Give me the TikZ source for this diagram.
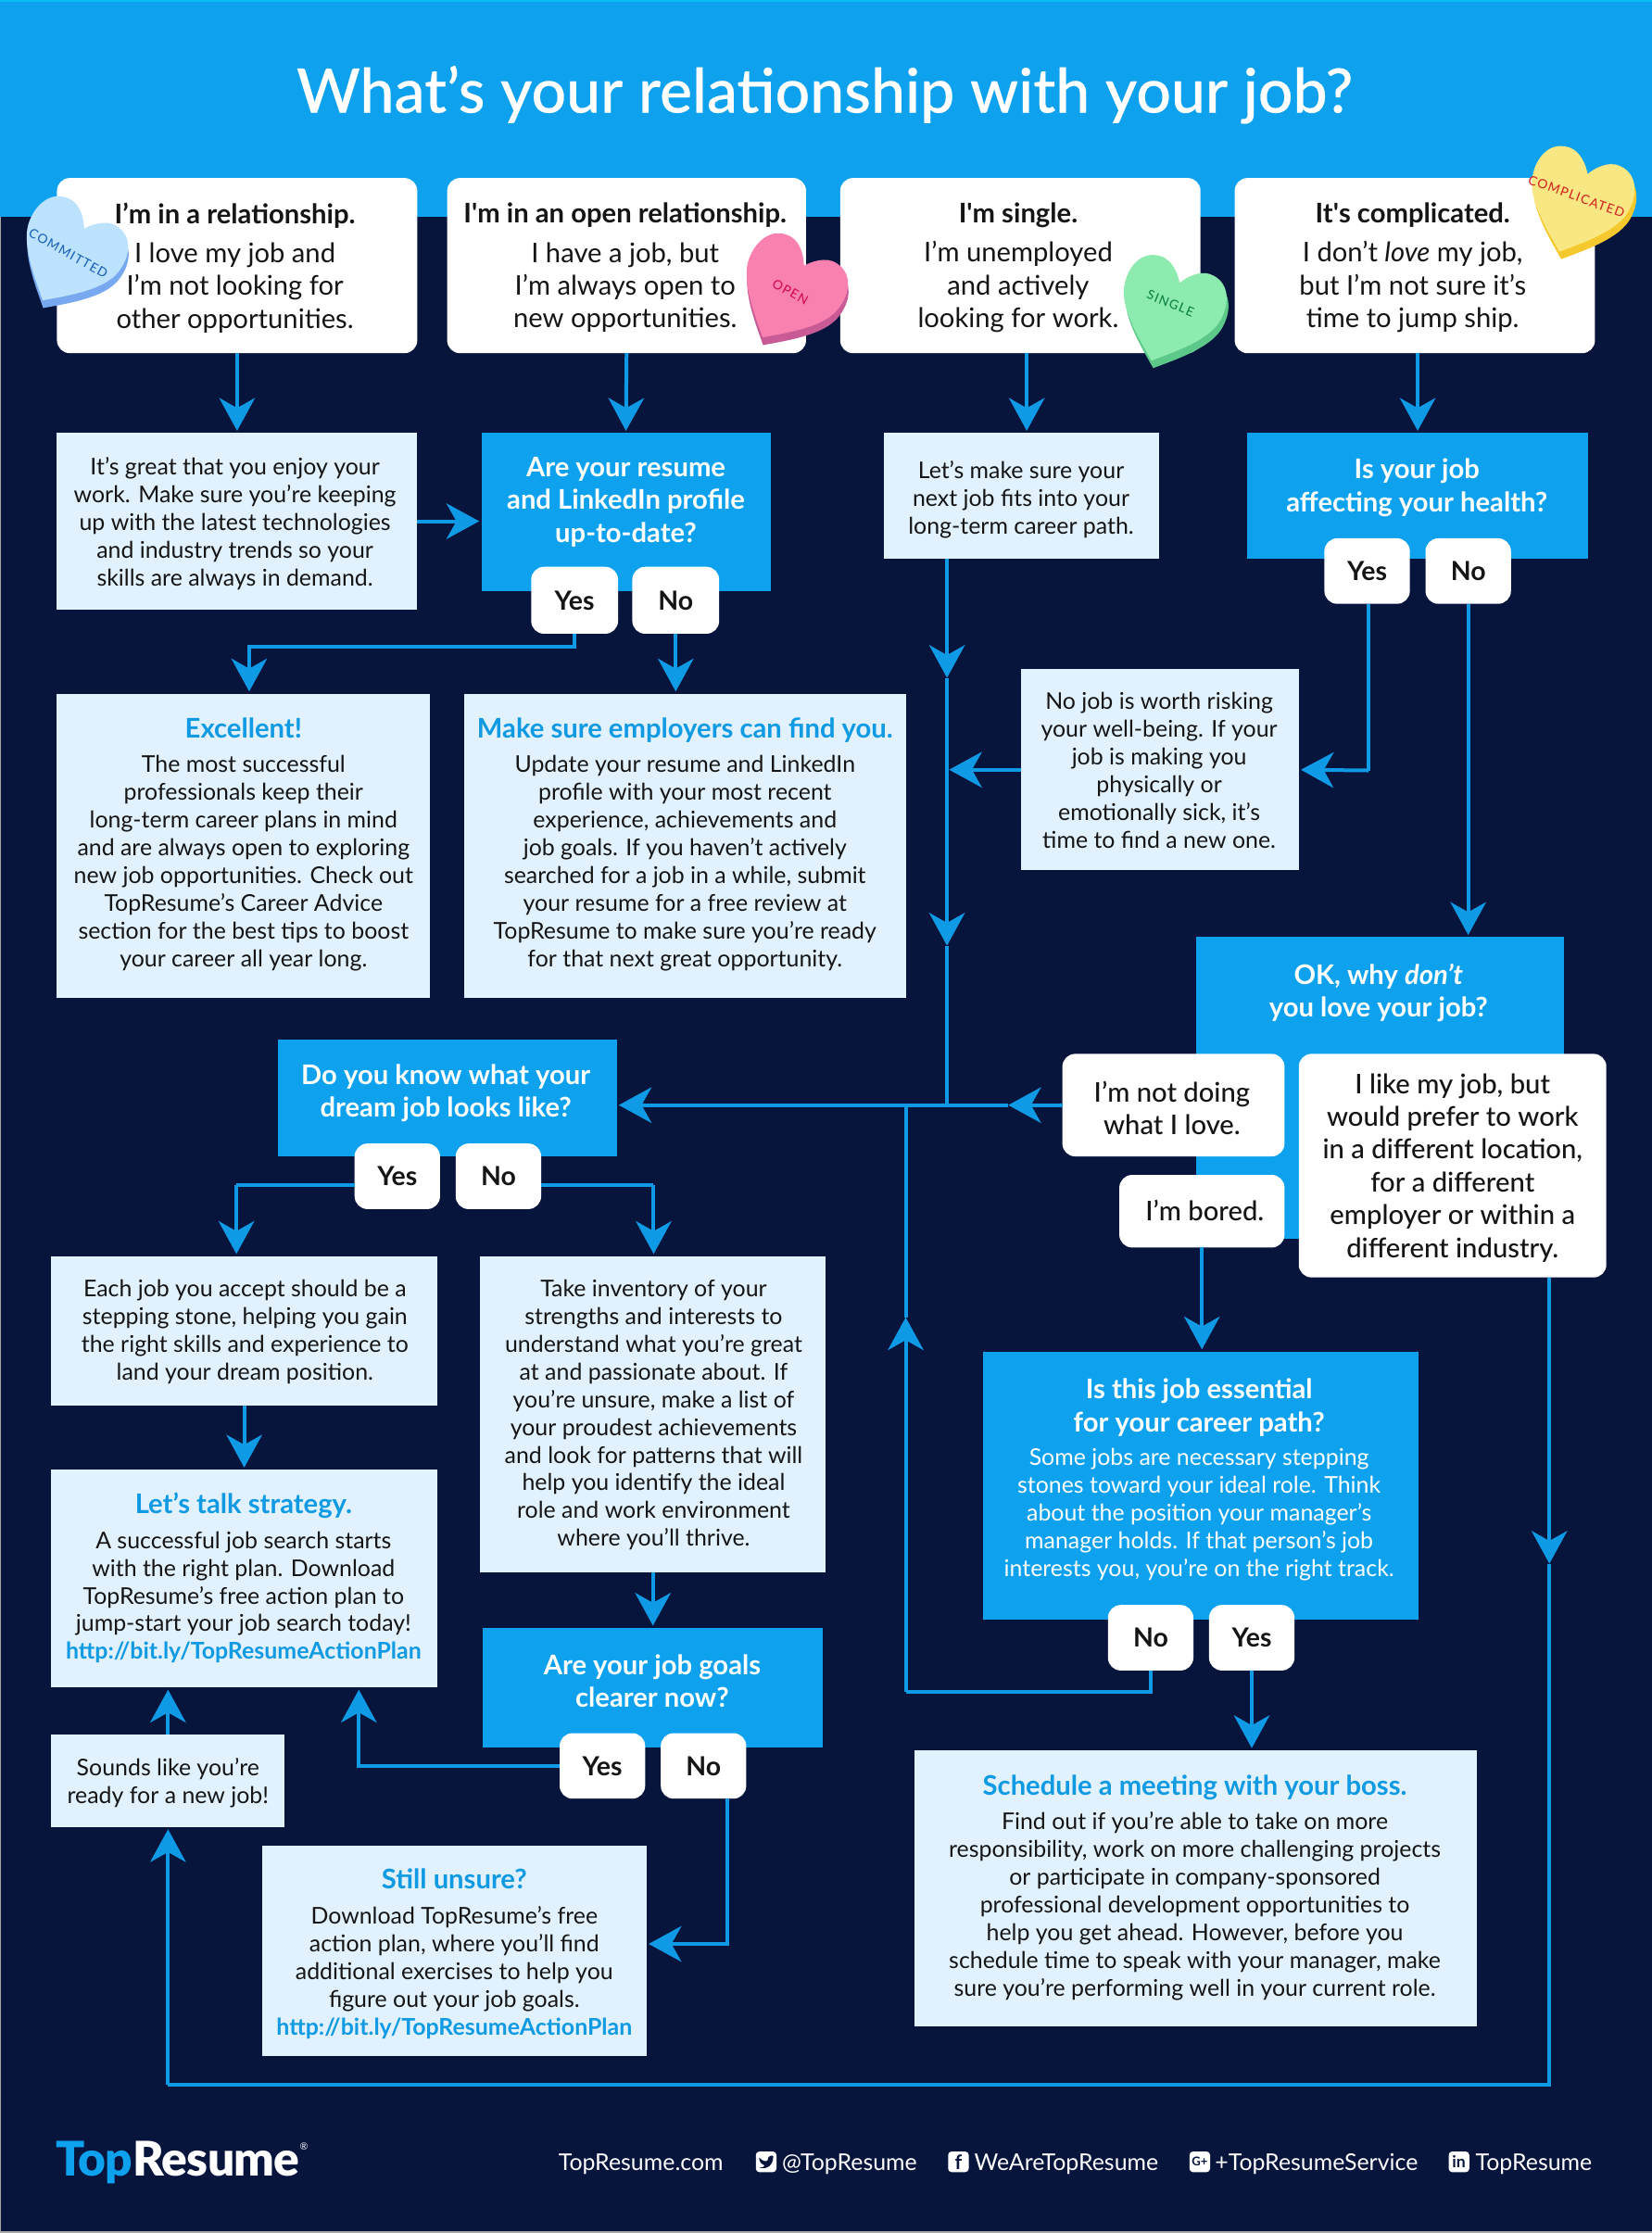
\documentclass[tikz,border=0pt]{standalone}
\usepackage{fontspec}
\setmainfont{Lato}
\newfontfamily\logofont{Lato Black}[LetterSpace=-1.5]
\newfontfamily\medfont{Lato Medium}[ItalicFont={Lato Medium Italic}]
\newfontfamily\titlefont{Lato Medium}[FakeBold=0.35]
\newfontfamily\hfont{Lato Medium}[LetterSpace=9]
\usetikzlibrary{arrows.meta,calc}
\definecolor{hdr}{HTML}{0EA1EE}
\definecolor{navy}{HTML}{07143C}
\definecolor{pale}{HTML}{E1F2FE}
\definecolor{cline}{HTML}{0F9AE6}
\definecolor{ttl}{HTML}{0F9AE3}
\definecolor{ink}{HTML}{151515}
\definecolor{hbF}{HTML}{BDE2FD}\definecolor{hbE}{HTML}{78A9F0}\definecolor{hbT}{HTML}{2068BC}
\definecolor{hpF}{HTML}{F981B0}\definecolor{hpE}{HTML}{C85A95}\definecolor{hpT}{HTML}{D0104F}
\definecolor{hgF}{HTML}{8EEBB0}\definecolor{hgE}{HTML}{5CC98A}\definecolor{hgT}{HTML}{0E8547}
\definecolor{hyF}{HTML}{F9E784}\definecolor{hyE}{HTML}{F5C92E}\definecolor{hyT}{HTML}{D42E24}
\newcommand{\bx}[7]{\node[#6,minimum width={#4-#2},minimum height={#5-#3}] (#1) at ({(#2+#4)/2},{(#3+#5)/2}) {#7};}
\newcommand{\tx}[5]{\node[#4] (#1) at (#2,#3) {#5};}
\newcommand{\hd}[1]{{\fontsize{19}{23}\selectfont\bfseries\color{ttl}#1}}
\newcommand{\lnk}[1]{{\bfseries\color{ttl}#1}}
\newcommand{\hdw}[1]{{\fontsize{19}{23}\selectfont\bfseries #1}}
\newcommand{\heartpath}{(0,-20) .. controls (6,-30) and (14,-34) .. (20,-33) .. controls (32,-32) and (38,-20) .. (36,-6) .. controls (34,10) and (14,26) .. (0,38) .. controls (-14,26) and (-34,10) .. (-36,-6) .. controls (-38,-20) and (-32,-32) .. (-20,-33) .. controls (-14,-34) and (-6,-30) .. (0,-20) -- cycle}
% x, y, angle, face, edge
\newcommand{\hrt}[5]{%
  \begin{scope}[shift={(#1,#2)},rotate=#3]
    \fill[#5,shift={(3,4.5)}] \heartpath;
    \fill[#4] \heartpath;
  \end{scope}}
\tikzset{
  hbox/.style={fill=white,rounded corners=9pt,inner sep=0,outer sep=0},
  lbox/.style={fill=pale,inner sep=0,outer sep=0},
  qbox/.style={fill=hdr,inner sep=0,outer sep=0},
  btn/.style={fill=white,rounded corners=9pt,inner sep=0,outer sep=0,text=ink,font=\fontsize{18.5}{22}\selectfont\bfseries},
  bigtxt/.style={align=center,inner sep=0,text=ink,font=\fontsize{19}{23}\selectfont},
  bodytxt/.style={align=center,inner sep=0,text=ink,font=\fontsize{16.2}{19.5}\selectfont},
  qtxt/.style={align=center,inner sep=0,text=white,font=\fontsize{19}{23}\selectfont\bfseries},
  btxt/.style={align=center,inner sep=0,text=ink,font=\medfont\fontsize{19}{23}\selectfont},
  foot/.style={inner sep=0,text=white,font=\fontsize{16.2}{19.5}\selectfont,anchor=west},
  icon/.style={fill=white,rounded corners=2.5pt,minimum size=14.5pt,inner sep=0,text=navy,font=\fontsize{10}{10}\selectfont\bfseries},
  hlab/.style={inner sep=0,font=\hfont\fontsize{9}{9}\selectfont},
  conn/.style={draw=cline,line width=2.6pt},
  arr/.style={conn,-{Stealth[length=23pt,width=25pt,inset=7pt]},shorten >=1.5pt},
  marr/.style={conn,-{Stealth[length=23pt,width=25pt,inset=7pt]}},
}
\begin{document}
\begin{tikzpicture}[x=1pt,y=-1pt]
\useasboundingbox (0,0) rectangle (1160,1568);
% backgrounds
\fill[navy] (0,0) rectangle (1160,1568);
\fill[hdr] (0,0) rectangle (1160,152);
\fill[hdr!70!cyan] (0,0) rectangle (1160,1.3);
\fill[gray!70] (0,1566.8) rectangle (1160,1568);
\fill[gray!70] (0,152) rectangle (0.8,1568);
\tx{title}{579}{66.5}{align=center,inner sep=0,text=white,font=\titlefont\fontsize{43}{50}\selectfont}{What’s your relationship with your job?}
% row 1
\bx{r1}{40}{125}{293}{248}{hbox}{}
\bx{r2}{314}{125}{566}{248}{hbox}{}
\bx{r3}{590}{125}{843}{248}{hbox}{}
\bx{r4}{867}{125}{1120}{248}{hbox}{}
\tx{r1t}{165}{188}{bigtxt}{\textbf{I’m in a relationship.}\\[4.5pt]I love my job and\\I’m not looking for\\other opportunities.}
\tx{r2t}{439}{188}{bigtxt}{\textbf{I\textquotesingle m in an open relationship.}\\[4.5pt]I have a job, but\\I’m always open to\\new opportunities.}
\tx{r3t}{715}{188}{bigtxt}{\textbf{I\textquotesingle m single.}\\[4.5pt]I’m unemployed\\and actively\\looking for work.}
\tx{r4t}{992}{188}{bigtxt}{\textbf{It\textquotesingle s complicated.}\\[4.5pt]I don’t \textit{love} my job,\\but I’m not sure it’s\\time to jump ship.}
% row 2
\bx{b1}{40}{304}{293}{428}{lbox}{}
\tx{b1t}{165}{367.5}{bodytxt}{It’s great that you enjoy your\\work. Make sure you’re keeping\\up with the latest technologies\\and industry trends so your\\skills are always in demand.}
\bx{q1}{338}{304}{541}{415}{qbox}{}
\tx{q1t}{439.5}{352.5}{qtxt}{Are your resume\\and LinkedIn profile\\up-to-date?}
\bx{q1y}{373}{398}{434}{445}{btn}{Yes}
\bx{q1n}{444}{398}{505}{445}{btn}{No}
\bx{b3}{621}{304}{814}{392}{lbox}{}
\tx{b3t}{717}{351}{bodytxt}{Let’s make sure your\\next job fits into your\\long-term career path.}
\bx{q2}{876}{304}{1115}{392}{qbox}{}
\tx{q2t}{995}{342.5}{qtxt}{Is your job\\affecting your health?}
\bx{q2y}{930}{378}{990}{424}{btn}{Yes}
\bx{q2n}{1001}{378}{1061}{424}{btn}{No}
% row 3
\bx{ex}{40}{487}{302}{701}{lbox}{}
\tx{ext}{171}{593}{bodytxt}{\hd{Excellent!}\\[5pt]The most successful\\professionals keep their\\long-term career plans in mind\\and are always open to exploring\\new job opportunities. Check out\\TopResume’s Career Advice\\section for the best tips to boost\\your career all year long.}
\bx{ms}{326}{487}{636}{701}{lbox}{}
\tx{mst}{481}{593}{bodytxt}{\hd{Make sure employers can find you.}\\[5pt]Update your resume and LinkedIn\\profile with your most recent\\experience, achievements and\\job goals. If you haven’t actively\\searched for a job in a while, submit\\your resume for a free review at\\TopResume to make sure you’re ready\\for that next great opportunity.}
\bx{nj}{717}{470}{912}{611}{lbox}{}
\tx{njt}{814}{541}{bodytxt}{No job is worth risking\\your well-being. If your\\job is making you\\physically or\\emotionally sick, it’s\\time to find a new one.}
% OK why
\bx{ok}{840}{658}{1098}{870}{qbox}{}
\tx{okt}{968}{697}{qtxt}{OK, why \textit{don’t}\\you love your job?}
\bx{nd}{746}{740}{902}{812}{btn}{}
\tx{ndt}{823}{778}{btxt}{I’m not doing\\what I love.}
\bx{lk}{912}{740}{1128}{897}{btn}{}
\tx{lkt}{1020}{820}{btxt}{I like my job, but\\would prefer to work\\in a different location,\\for a different\\employer or within a\\different industry.}
\bx{bd}{786}{825}{902}{876}{btn}{}
\tx{bdt}{846}{850}{btxt}{I’m bored.}
% do you know
\bx{dk}{195}{730}{433}{812}{qbox}{}
\tx{dkt}{313}{767.5}{qtxt}{Do you know what your\\dream job looks like?}
\bx{dky}{249}{803}{309}{849}{btn}{Yes}
\bx{dkn}{320}{803}{380}{849}{btn}{No}
\bx{ea}{36}{882}{307}{987}{lbox}{}
\tx{eat}{172}{935.5}{bodytxt}{Each job you accept should be a\\stepping stone, helping you gain\\the right skills and experience to\\land your dream position.}
\bx{ti}{337}{882}{580}{1104}{lbox}{}
\tx{tit}{459}{993.5}{bodytxt}{Take inventory of your\\strengths and interests to\\understand what you’re great\\at and passionate about. If\\you’re unsure, make a list of\\your proudest achievements\\and look for patterns that will\\help you identify the ideal\\role and work environment\\where you’ll thrive.}
\bx{lt}{36}{1032}{307}{1185}{lbox}{}
\tx{ltt}{171}{1108}{bodytxt}{\hd{Let’s talk strategy.}\\[5pt]A successful job search starts\\with the right plan. Download\\TopResume’s free action plan to\\jump-start your job search today!\\\lnk{http://bit.ly/TopResumeActionPlan}}
\bx{gl}{339}{1143}{578}{1227}{qbox}{}
\tx{glt}{458}{1180.5}{qtxt}{Are your job goals\\clearer now?}
\bx{gly}{393}{1217}{453}{1263}{btn}{Yes}
\bx{gln}{464}{1217}{524}{1263}{btn}{No}
\bx{so}{36}{1218}{200}{1283}{lbox}{}
\tx{sot}{118}{1252}{bodytxt}{Sounds like you’re\\ready for a new job!}
\bx{su}{184}{1296}{454}{1444}{lbox}{}
\tx{sut}{319}{1372}{bodytxt}{\hd{Still unsure?}\\[5pt]Download TopResume’s free\\action plan, where you’ll find\\additional exercises to help you\\figure out your job goals.\\\lnk{http://bit.ly/TopResumeActionPlan}}
\bx{es}{690}{949}{996}{1137}{qbox}{}
\tx{est}{842}{1039}{align=center,inner sep=0,text=white,font=\fontsize{16.2}{19.5}\selectfont}{\hdw{Is this job essential}\\[3.5pt]\hdw{for your career path?}\\[4pt]Some jobs are necessary stepping\\stones toward your ideal role. Think\\about the position your manager’s\\manager holds. If that person’s job\\interests you, you’re on the right track.}
\bx{esn}{778}{1127}{838}{1173}{btn}{No}
\bx{esy}{849}{1127}{909}{1173}{btn}{Yes}
\bx{sc}{642}{1229}{1037}{1423}{lbox}{}
\tx{sct}{839}{1325.5}{bodytxt}{\hd{Schedule a meeting with your boss.}\\[5pt]Find out if you’re able to take on more\\responsibility, work on more challenging projects\\or participate in company-sponsored\\professional development opportunities to\\help you get ahead. However, before you\\schedule time to speak with your manager, make\\sure you’re performing well in your current role.}
% connectors
\coordinate (v) at (665,776);
\coordinate (m1) at (665,476);
\coordinate (m2) at (665,664);
\coordinate (m3) at (708,776);
\coordinate (vb) at (636,776);
\coordinate (m4) at (636,925);
\coordinate (m5) at (1088,1098);
\coordinate (k0) at (721,300);
\coordinate (k1) at (175,454);
\coordinate (k2) at (961,541);
\coordinate (k3) at (166,832);
\coordinate (k4) at (459,832);
\coordinate (k5) at (252,1249);
\coordinate (k6) at (511,1365);
\coordinate (k7) at (808,1188);
\coordinate (k8) at (636,1188);
\coordinate (k9) at (1088,1464);
\coordinate (k10) at (118,1464);
\draw[arr] (r1.south) -- (b1.north);
\draw[arr] (r2.south) -- (q1.north);
\draw[arr] (r3.south -| k0) -- (b3.north -| k0);
\draw[arr] (r4.south -| q2.north) -- (q2.north);
\draw[arr] (b1.east) -- (q1.west |- b1.east);
\draw[arr] (q1y.south) |- (k1) -- (ex.north -| k1);
\draw[arr] (q1n.south) -- (ms.north -| q1n);
\draw[marr] (b3.south -| m1) -- (m1);
\draw[marr] (m1) -- (m2);
\draw[conn] (m2) -- (v);
\draw[arr] (nj.west) -- (v |- nj.west);
\draw[conn] (q2y.south -| k2) -- (k2);
\draw[arr] (k2) -- (nj.east);
\draw[arr] (q2n.south) -- (ok.north -| q2n);
\draw[marr] (nd.west |- m3) -- (m3);
\draw[arr] (m3) -- (dk.east |- m3);
\draw[conn] (dky.west |- k3) -- (k3);
\draw[arr] (k3) -- (ea.north -| k3);
\draw[conn] (dkn.east |- k4) -- (k4);
\draw[arr] (k4) -- (ti.north -| k4);
\draw[arr] (ea.south -| lt.north) -- (lt.north);
\draw[arr] (ti.south -| gl.north) -- (gl.north);
\draw[arr] (gly.west) -| (lt.south -| k5);
\draw[arr] (gln.south -| k6) |- (su.east |- k6);
\draw[arr] (so.north) -- (lt.south -| so.north);
\draw[arr] (bd.south) -- (bd.south |- es.north);
\draw[conn] (esn.south -| k7) -- (k7) -- (k8);
\draw[marr] (k8) -- (m4);
\draw[conn] (m4) -- (vb);
\draw[arr] (esy.south) -- (sc.north -| esy);
\draw[marr] (lk.south -| m5) -- (m5);
\draw[conn] (m5) -- (k9) -- (k10);
\draw[arr] (k10) -- (so.south -| k10);
% hearts
\hrt{49}{178}{-30}{hbF}{hbE}
\node[hlab,rotate=-29,text=hbT] (h1) at (48,178) {COMMITTED};
\hrt{554.5}{204}{-30}{hpF}{hpE}
\node[hlab,rotate=-29,text=hpT] (h2) at (555,205) {OPEN};
\hrt{821.5}{217.5}{-20}{hgF}{hgE}
\node[hlab,rotate=-22,text=hgT] (h3) at (822,213) {SINGLE};
\hrt{1108}{141}{-20}{hyF}{hyE}
\node[hlab,rotate=-20,text=hyT] (h4) at (1107,138) {COMPLICATED};
% footer
\node[anchor=base west,inner sep=0,font=\logofont\fontsize{33.5}{36}\selectfont] (logo) at (39,1528) {\textcolor{hdr}{Top}\textcolor{white}{Resume}};
\tx{reg}{213.5}{1507}{inner sep=0,text=white,font=\fontsize{7}{7}\selectfont}{®}
\tx{f0}{392}{1519.5}{foot}{TopResume.com}
\node[icon] (ic1) at (538,1518) {};
\fill[navy] (533,1515) .. controls (536,1518) and (538,1518) .. (539,1517) .. controls (539,1514) and (542,1513) .. (543,1514) .. controls (543,1519) and (540,1524) .. (533,1522) .. controls (536,1522) and (537,1521) .. (537,1520.5) .. controls (535,1520) and (533,1518) .. (533,1515) -- cycle;
\tx{f1}{549}{1519.5}{foot}{@TopResume}
\node[icon,font=\fontsize{14}{14}\selectfont\bfseries] (ic2) at (673,1518) {f};
\tx{f2}{684}{1519.5}{foot}{WeAreTopResume}
\node[icon,font=\fontsize{8.5}{8.5}\selectfont\bfseries] (ic3) at (842.5,1518) {G+};
\tx{f3}{853}{1519.5}{foot}{+TopResumeService}
\node[icon,font=\fontsize{11.5}{11.5}\selectfont\bfseries] (ic4) at (1024.5,1518) {in};
\tx{f4}{1036}{1519.5}{foot}{TopResume}
\end{tikzpicture}
\end{document}
